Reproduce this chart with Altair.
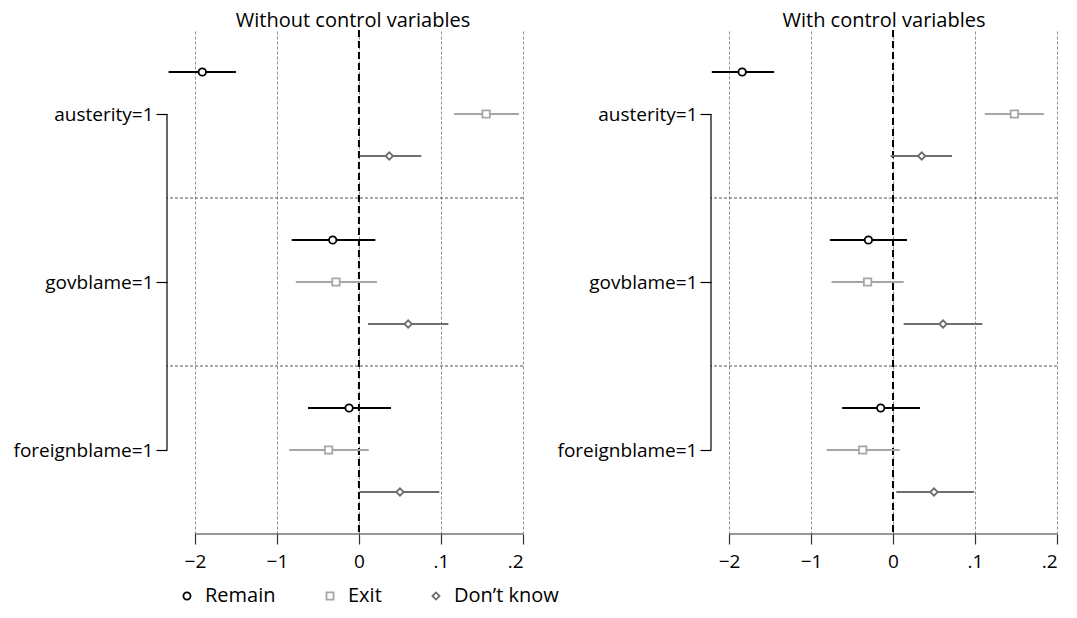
import altair as alt
import pandas as pd

FONT = "Open Sans"

variables = ["austerity=1", "govblame=1", "foreignblame=1"]
series = ["Remain", "Exit", "Don\u2019t know"]
series_colors = ["#000000", "#a6a6a6", "#6e6e6e"]
series_shapes = ["circle", "square", "diamond"]
panels = ["Without control variables", "With control variables"]

tick_values = [-0.2, -0.1, 0.0, 0.1, 0.2]
tick_labels = ["\u22122", "\u22121", "0", ".1", ".2"]

# point estimates and confidence bounds: rows = variables, cols = series
est_without = [[-0.191, 0.155, 0.037], [-0.032, -0.028, 0.060], [-0.012, -0.037, 0.050]]
lo_without = [[-0.232, 0.116, 0.001], [-0.082, -0.077, 0.011], [-0.062, -0.085, 0.001]]
hi_without = [[-0.150, 0.195, 0.076], [0.020, 0.022, 0.109], [0.039, 0.012, 0.098]]

est_with = [[-0.184, 0.148, 0.035], [-0.030, -0.031, 0.061], [-0.015, -0.037, 0.050]]
lo_with = [[-0.221, 0.112, -0.003], [-0.077, -0.075, 0.013], [-0.062, -0.081, 0.004]]
hi_with = [[-0.145, 0.184, 0.072], [0.017, 0.013, 0.109], [0.033, 0.008, 0.099]]

x_min_without = -0.234
x_min_with = -0.222

SLOTS = len(series) + 1  # rows per group incl. separator slot
N_ROWS = SLOTS * len(variables)


def make_df(est, lo, hi):
    rows = []
    for vi, v in enumerate(variables):
        for si, s in enumerate(series):
            rows.append({
                "variable": v, "series": s, "row": vi * SLOTS + si + 1,
                "est": est[vi][si], "lo": lo[vi][si], "hi": hi[vi][si],
            })
    return pd.DataFrame(rows)


def label_expr(values, labels, key="datum.value"):
    expr = "''"
    for v, l in reversed(list(zip(values, labels))):
        expr = f"abs({key} - ({v})) < 1e-6 ? '{l}' : ({expr})"
    return expr


group_centers = [vi * SLOTS + (len(series) + 1) / 2 for vi in range(len(variables))]
sep_positions = [(vi + 1) * SLOTS for vi in range(len(variables) - 1)]

legend_def = alt.Legend(title=None, orient="none", direction="horizontal",
                        legendX=10, legendY=556,
                        labelFontSize=20, labelFont=FONT, labelColor="#000000",
                        symbolSize=50, symbolStrokeWidth=1.8,
                        columnPadding=44, labelOffset=8,
                        symbolFillColor="white")
color_enc = alt.Color("series:N", scale=alt.Scale(domain=series, range=series_colors),
                      legend=legend_def)
shape_enc = alt.Shape("series:N", scale=alt.Scale(domain=series, range=series_shapes),
                      legend=legend_def)


def panel(title, df, xmin, width, title_dx, height=504):
    xs = alt.Scale(domain=[xmin, 0.2], nice=False, zero=False)
    ys = alt.Scale(domain=[0, N_ROWS], reverse=True, nice=False, zero=False)
    xaxis = alt.Axis(values=tick_values, labelExpr=label_expr(tick_values, tick_labels),
                     domain=False, grid=True, gridDash=[3, 2], gridColor="#8f8f8f",
                     gridWidth=1, tickColor="#333333", tickSize=10, tickWidth=1.2,
                     labelFontSize=19, labelPadding=8, labelColor="#000000",
                     labelFont=FONT, title=None)
    yaxis = alt.Axis(values=group_centers,
                     labelExpr=label_expr(group_centers, variables),
                     domain=False, grid=False, tickColor="#000000", tickSize=11,
                     tickWidth=1.2, labelFontSize=19, labelPadding=3,
                     labelColor="#000000", labelFont=FONT, title=None)

    base = alt.Chart(df)

    grid_src = base.mark_point(opacity=0).encode(
        x=alt.X("est:Q", scale=xs, axis=xaxis),
        y=alt.Y("row:Q", scale=ys, axis=yaxis),
    )
    seps = alt.Chart(pd.DataFrame({"s": sep_positions})).mark_rule(
        color="#444444", strokeDash=[3, 2], strokeWidth=0.9
    ).encode(y=alt.Y("s:Q", scale=ys))
    zero = alt.Chart(pd.DataFrame({"z": [0.0]})).mark_rule(
        color="#000000", strokeDash=[7, 4], strokeWidth=2
    ).encode(x=alt.X("z:Q", scale=xs))
    bracket = alt.Chart(pd.DataFrame({"a": [group_centers[0]], "b": [group_centers[-1]]})).mark_rule(
        color="#000000", strokeWidth=1.2
    ).encode(x=alt.value(0), y=alt.Y("a:Q", scale=ys), y2="b:Q")
    xdomain = alt.Chart(pd.DataFrame({"a": [tick_values[0]], "b": [tick_values[-1]]})).mark_rule(
        color="#333333", strokeWidth=1.2
    ).encode(x=alt.X("a:Q", scale=xs), x2="b:Q", y=alt.value(height))

    bars = base.mark_rule(strokeWidth=1.8).encode(
        x=alt.X("lo:Q", scale=xs), x2="hi:Q", y=alt.Y("row:Q", scale=ys),
        color=color_enc,
    )
    pts = base.mark_point(filled=False, fill="white", fillOpacity=1, strokeWidth=1.8, size=55).encode(
        x=alt.X("est:Q", scale=xs), y=alt.Y("row:Q", scale=ys),
        color=color_enc, shape=shape_enc,
    )

    return alt.layer(grid_src, seps, zero, bracket, xdomain, bars, pts).properties(
        width=width, height=height,
        title=alt.TitleParams(title, fontSize=20, fontWeight="normal", font=FONT,
                              anchor="middle", offset=-2, dx=title_dx, color="#000000"),
    )


left = panel(panels[0], make_df(est_without, lo_without, hi_without), x_min_without, 356, 8)
right = panel(panels[1], make_df(est_with, lo_with, hi_with), x_min_with, 346, 0)

chart = alt.hconcat(left, right, spacing=33).properties(
    padding={"left": 5, "top": 3, "right": 5, "bottom": 5}
).configure_view(stroke=None)

chart.save("out.html", embed_options={"renderer": "svg", "actions": False})
